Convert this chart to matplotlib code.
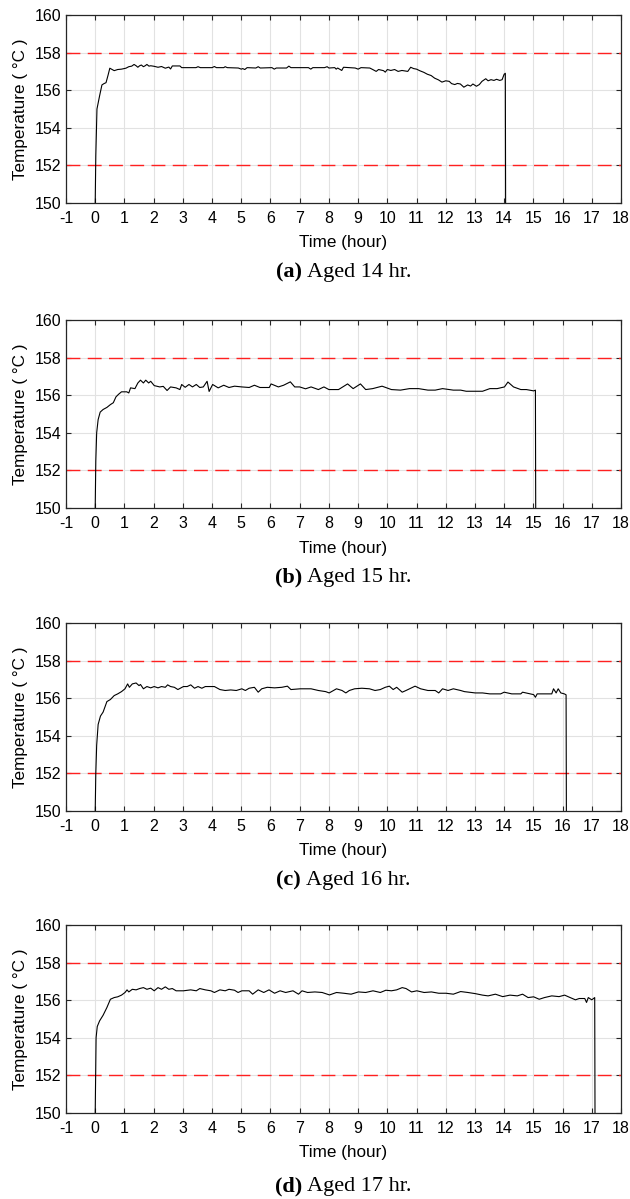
import numpy as np
import matplotlib.pyplot as plt

plt.rcParams['font.family'] = ['Liberation Sans', 'DejaVu Sans']
plt.rcParams['axes.unicode_minus'] = False

# (a) aged 14 hr
t_a = [0.0, 0.02, 0.06, 0.15, 0.23, 0.30, 0.37, 0.44, 0.50, 0.58,
       0.65, 0.77, 0.90, 1.05, 1.15, 1.25, 1.33, 1.40, 1.46, 1.52,
       1.58, 1.65, 1.71, 1.77, 1.84, 1.90, 2.02, 2.15, 2.27, 2.40,
       2.52, 2.58, 2.64, 2.90, 2.96, 3.45, 3.52, 3.60, 4.00, 4.08,
       4.15, 4.40, 4.45, 4.52, 4.90, 5.00, 5.05, 5.12, 5.20, 5.50,
       5.58, 5.65, 6.05, 6.13, 6.20, 6.55, 6.63, 6.70, 7.30, 7.38,
       7.45, 7.85, 7.94, 8.00, 8.20, 8.25, 8.30, 8.44, 8.50, 8.90,
       9.00, 9.10, 9.40, 9.50, 9.62, 9.70, 9.87, 9.93, 10.00, 10.12,
       10.25, 10.37, 10.50, 10.70, 10.80, 10.90, 11.00, 11.12, 11.25, 11.37,
       11.50, 11.62, 11.75, 11.87, 12.00, 12.12, 12.20, 12.31, 12.40, 12.50,
       12.62, 12.75, 12.85, 12.93, 13.05, 13.15, 13.24, 13.37, 13.45, 13.55,
       13.65, 13.74, 13.85, 13.93, 14.00, 14.04, 14.05]
temp_a = [150.0, 152.5, 155.0, 155.7, 156.28, 156.35, 156.40, 156.80, 157.17, 157.10,
          157.04, 157.10, 157.12, 157.17, 157.25, 157.28, 157.37, 157.30, 157.22, 157.30,
          157.34, 157.25, 157.30, 157.37, 157.28, 157.30, 157.27, 157.22, 157.26, 157.17,
          157.23, 157.13, 157.29, 157.29, 157.20, 157.20, 157.25, 157.20, 157.20, 157.26,
          157.20, 157.20, 157.25, 157.20, 157.18, 157.12, 157.15, 157.10, 157.20, 157.18,
          157.25, 157.18, 157.20, 157.12, 157.18, 157.18, 157.28, 157.20, 157.20, 157.12,
          157.20, 157.20, 157.25, 157.18, 157.20, 157.12, 157.18, 157.05, 157.22, 157.18,
          157.12, 157.20, 157.18, 157.10, 157.00, 157.10, 157.04, 156.96, 157.10, 157.05,
          157.10, 157.00, 157.05, 157.00, 157.22, 157.15, 157.12, 157.03, 156.95, 156.85,
          156.78, 156.64, 156.55, 156.43, 156.50, 156.47, 156.35, 156.30, 156.36, 156.33,
          156.16, 156.28, 156.22, 156.33, 156.21, 156.30, 156.47, 156.61, 156.50, 156.56,
          156.52, 156.58, 156.52, 156.56, 156.85, 156.90, 150.0]

# (b) aged 15 hr
t_b = [0.0, 0.02, 0.05, 0.10, 0.17, 0.27, 0.40, 0.52, 0.62, 0.71,
       0.80, 0.90, 1.08, 1.15, 1.21, 1.36, 1.46, 1.55, 1.65, 1.73,
       1.83, 1.90, 2.02, 2.21, 2.33, 2.46, 2.58, 2.77, 2.90, 2.96,
       3.08, 3.21, 3.33, 3.46, 3.58, 3.70, 3.83, 3.90, 4.02, 4.21,
       4.40, 4.58, 4.77, 5.02, 5.27, 5.45, 5.64, 5.96, 6.02, 6.27,
       6.45, 6.68, 6.83, 7.00, 7.20, 7.39, 7.64, 7.83, 8.00, 8.33,
       8.64, 8.83, 9.08, 9.26, 9.50, 9.82, 10.14, 10.45, 10.76, 11.07,
       11.39, 11.64, 11.89, 12.26, 12.51, 12.70, 13.26, 13.51, 13.76, 14.01,
       14.13, 14.32, 14.57, 14.76, 15.01, 15.07, 15.08]
temp_b = [150.0, 152.5, 154.0, 154.7, 155.1, 155.24, 155.35, 155.5, 155.6, 155.91,
          156.05, 156.18, 156.18, 156.12, 156.39, 156.35, 156.65, 156.80, 156.65, 156.80,
          156.65, 156.74, 156.51, 156.44, 156.47, 156.25, 156.44, 156.39, 156.30, 156.57,
          156.42, 156.57, 156.44, 156.57, 156.41, 156.44, 156.74, 156.20, 156.57, 156.39,
          156.53, 156.41, 156.48, 156.44, 156.41, 156.53, 156.41, 156.41, 156.60, 156.44,
          156.53, 156.71, 156.44, 156.44, 156.34, 156.44, 156.30, 156.44, 156.30, 156.30,
          156.60, 156.35, 156.60, 156.30, 156.35, 156.48, 156.30, 156.27, 156.35, 156.35,
          156.27, 156.27, 156.35, 156.27, 156.27, 156.21, 156.21, 156.35, 156.35, 156.44,
          156.70, 156.44, 156.30, 156.30, 156.23, 156.27, 150.0]

# (c) aged 16 hr
t_c = [0.0, 0.02, 0.05, 0.10, 0.18, 0.27, 0.40, 0.52, 0.65, 0.77,
       0.90, 1.02, 1.11, 1.17, 1.27, 1.40, 1.50, 1.55, 1.65, 1.77,
       1.90, 2.02, 2.15, 2.27, 2.40, 2.48, 2.58, 2.71, 2.83, 3.02,
       3.15, 3.27, 3.40, 3.52, 3.65, 3.77, 4.08, 4.27, 4.45, 4.64,
       4.83, 5.02, 5.14, 5.27, 5.45, 5.58, 5.70, 5.89, 6.14, 6.39,
       6.58, 6.70, 7.02, 7.39, 7.64, 7.89, 8.01, 8.26, 8.45, 8.58,
       8.70, 8.88, 9.13, 9.39, 9.58, 9.76, 9.93, 10.07, 10.20, 10.32,
       10.51, 10.64, 10.95, 11.14, 11.39, 11.64, 11.76, 11.89, 12.08, 12.26,
       12.51, 12.64, 13.01, 13.26, 13.51, 13.88, 14.00, 14.26, 14.57, 14.63,
       15.01, 15.07, 15.13, 15.63, 15.69, 15.78, 15.85, 15.94, 16.06, 16.12,
       16.13]
temp_c = [150.0, 152.0, 153.5, 154.6, 155.05, 155.26, 155.82, 155.93, 156.14, 156.23,
          156.35, 156.50, 156.76, 156.58, 156.76, 156.81, 156.67, 156.73, 156.50, 156.62,
          156.55, 156.62, 156.55, 156.62, 156.58, 156.71, 156.62, 156.58, 156.46, 156.62,
          156.62, 156.71, 156.53, 156.62, 156.53, 156.62, 156.62, 156.46, 156.41, 156.44,
          156.41, 156.50, 156.41, 156.53, 156.58, 156.32, 156.50, 156.58, 156.55, 156.58,
          156.64, 156.46, 156.50, 156.50, 156.41, 156.35, 156.28, 156.50, 156.41, 156.28,
          156.41, 156.50, 156.53, 156.50, 156.41, 156.46, 156.58, 156.64, 156.46, 156.58,
          156.32, 156.41, 156.64, 156.50, 156.41, 156.41, 156.28, 156.50, 156.41, 156.50,
          156.41, 156.35, 156.28, 156.28, 156.23, 156.23, 156.32, 156.23, 156.23, 156.32,
          156.19, 156.05, 156.23, 156.23, 156.50, 156.28, 156.50, 156.28, 156.23, 156.18,
          150.0]

# (d) aged 17 hr
t_d = [0.0, 0.03, 0.07, 0.15, 0.27, 0.40, 0.52, 0.65, 0.77, 0.90,
       1.02, 1.09, 1.15, 1.27, 1.40, 1.52, 1.65, 1.77, 1.90, 2.02,
       2.15, 2.27, 2.40, 2.52, 2.64, 2.77, 3.02, 3.27, 3.46, 3.58,
       3.77, 3.96, 4.08, 4.27, 4.45, 4.58, 4.77, 4.89, 5.02, 5.27,
       5.39, 5.58, 5.77, 5.95, 6.14, 6.33, 6.52, 6.77, 6.96, 7.08,
       7.27, 7.52, 7.77, 8.02, 8.26, 8.51, 8.76, 9.01, 9.26, 9.51,
       9.76, 9.95, 10.14, 10.32, 10.51, 10.64, 10.83, 11.01, 11.26, 11.51,
       11.76, 12.01, 12.26, 12.51, 12.76, 13.01, 13.26, 13.45, 13.70, 13.95,
       14.20, 14.45, 14.63, 14.82, 15.01, 15.20, 15.38, 15.63, 15.88, 16.07,
       16.26, 16.44, 16.57, 16.76, 16.82, 16.88, 17.00, 17.10, 17.11]
temp_d = [150.0, 154.0, 154.6, 154.9, 155.2, 155.61, 156.05, 156.14, 156.18, 156.27,
          156.41, 156.55, 156.44, 156.58, 156.55, 156.62, 156.67, 156.58, 156.64, 156.50,
          156.67, 156.58, 156.71, 156.58, 156.62, 156.50, 156.50, 156.55, 156.50, 156.62,
          156.55, 156.50, 156.41, 156.55, 156.50, 156.58, 156.53, 156.41, 156.50, 156.50,
          156.32, 156.55, 156.41, 156.55, 156.37, 156.50, 156.41, 156.50, 156.32, 156.50,
          156.41, 156.44, 156.41, 156.28, 156.41, 156.37, 156.32, 156.44, 156.41, 156.50,
          156.41, 156.53, 156.50, 156.55, 156.67, 156.62, 156.44, 156.50, 156.41, 156.44,
          156.37, 156.37, 156.32, 156.46, 156.41, 156.35, 156.27, 156.23, 156.32, 156.19,
          156.27, 156.23, 156.32, 156.14, 156.18, 156.05, 156.14, 156.23, 156.19, 156.27,
          156.14, 156.02, 156.09, 156.09, 155.88, 156.14, 156.02, 156.14, 150.0]

limits = [152, 158]
captions = [("(a)", "Aged 14 hr."), ("(b)", "Aged 15 hr."),
            ("(c)", "Aged 16 hr."), ("(d)", "Aged 17 hr.")]
series = [(t_a, temp_a), (t_b, temp_b), (t_c, temp_c), (t_d, temp_d)]

W, H = 630, 1199
fig = plt.figure(figsize=(W / 100, H / 100), dpi=100)
renderer = fig.canvas.get_renderer()

ax_left, ax_width, ax_height = 66, 555, 188
ax_bottoms = [203, 508, 811, 1113]      # pixel rows from top
cap_offsets = [74, 74, 74, 78]

for i, (t, temp) in enumerate(series):
    b = ax_bottoms[i]
    ax = fig.add_axes([ax_left / W, 1 - b / H, ax_width / W, ax_height / H])
    for lim in limits:
        ax.axhline(lim, color='#ff2020', lw=1.0, dashes=(10, 5.3))
    ax.plot(t, temp, color='black', lw=0.8)
    ax.set_xlim(-1, 18)
    ax.set_ylim(150, 160)
    ax.set_xticks(np.arange(-1, 19))
    ax.set_yticks(np.arange(150, 161, 2))
    ax.grid(True, color='#e2e2e2', lw=0.8)
    ax.set_axisbelow(True)
    ax.tick_params(direction='in', top=True, right=True, length=3.5, width=0.8,
                   labelsize=11.5, color='#262626')
    ax.tick_params(axis='x', pad=5.5)
    ax.tick_params(axis='y', pad=3.5)
    for sp in ax.spines.values():
        sp.set_color('#262626')
        sp.set_linewidth(0.9)

    cy = b - ax_height / 2
    fig.text(20.7 / W, 1 - cy / H, "Temperature ( °C )", rotation=90,
             ha='center', va='center', fontsize=12.3)
    fig.text((ax_left + ax_width / 2) / W, 1 - (b + 40) / H, "Time (hour)",
             ha='center', va='center', fontsize=12.3)

    # caption: bold letter + regular text, centered under the axes
    y_cap = 1 - (b + cap_offsets[i]) / H
    t1 = fig.text(0, y_cap, captions[i][0], fontfamily='Liberation Serif',
                  fontweight='bold', fontsize=16, va='baseline')
    t2 = fig.text(0, y_cap, captions[i][1], fontfamily='Liberation Serif',
                  fontsize=16, va='baseline')
    w1 = t1.get_window_extent(renderer).width
    w2 = t2.get_window_extent(renderer).width
    gap = 5
    x0 = ax_left + ax_width / 2 - (w1 + gap + w2) / 2
    t1.set_x(x0 / W)
    t2.set_x((x0 + w1 + gap) / W)

fig.savefig("out.png", dpi=100)
